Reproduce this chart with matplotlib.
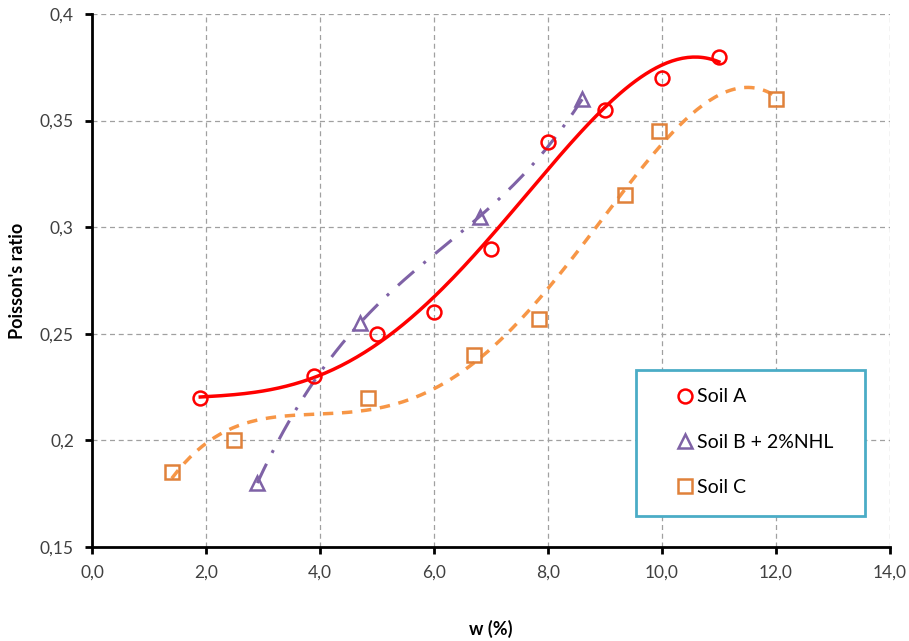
import numpy as np
import matplotlib
matplotlib.use("Agg")
import matplotlib.pyplot as plt
from matplotlib.ticker import FuncFormatter
from matplotlib.lines import Line2D
from matplotlib.patches import Rectangle

plt.rcParams['font.family'] = ['Lato', 'DejaVu Sans']

# Data
soilA_w = [1.9, 3.9, 5.0, 6.0, 7.0, 8.0, 9.0, 10.0, 11.0]
soilA_nu = [0.220, 0.230, 0.250, 0.260, 0.290, 0.340, 0.355, 0.370, 0.380]
soilB_w = [2.9, 4.7, 6.8, 8.6]
soilB_nu = [0.180, 0.255, 0.305, 0.360]
soilC_w = [1.4, 2.5, 4.85, 6.7, 7.85, 9.35, 9.95, 12.0]
soilC_nu = [0.185, 0.200, 0.220, 0.240, 0.257, 0.315, 0.345, 0.360]
labels = ["Soil A", "Soil B + 2%NHL", "Soil C"]

fig = plt.figure(figsize=(9.09, 6.41), dpi=100)
ax = fig.add_axes([0.1012, 0.1466, 0.8778, 0.8316])

redc = '#FF0000'
purc = '#7F62A6'
orc_line = '#F79646'
orc_mk = '#E0813A'

# trendlines (polynomial fits of the data)
xa = np.linspace(min(soilA_w), max(soilA_w), 200)
pa = np.polyfit(soilA_w, soilA_nu, 4)
ax.plot(xa, np.polyval(pa, xa), color=redc, lw=2.5, zorder=3)

xb = np.linspace(min(soilB_w), max(soilB_w), 200)
pb = np.polyfit(soilB_w, soilB_nu, 3)
ax.plot(xb, np.polyval(pb, xb), color=purc, lw=2.2, zorder=3,
        dashes=(7, 4, 1, 4))

xc = np.linspace(min(soilC_w), max(soilC_w), 200)
pc = np.polyfit(soilC_w, soilC_nu, 4)
ax.plot(xc, np.polyval(pc, xc), color=orc_line, lw=2.5, zorder=3,
        dashes=(3, 2.5))

ax.plot(soilA_w, soilA_nu, 'o', ms=10, mfc='none', mec=redc, mew=1.8, zorder=4)
ax.plot(soilB_w, soilB_nu, '^', ms=10, mfc='none', mec=purc, mew=1.8, zorder=4)
ax.plot(soilC_w, soilC_nu, 's', ms=10, mfc='none', mec=orc_mk, mew=1.8, zorder=4)

ax.set_xlim(0, 14)
ax.set_ylim(0.15, 0.4)
ax.set_xticks(np.arange(0, 14.1, 2))
ax.set_yticks([0.15, 0.2, 0.25, 0.3, 0.35, 0.4])
ax.xaxis.set_major_formatter(FuncFormatter(lambda v, p: f"{v:.1f}".replace('.', ',')))
ax.yaxis.set_major_formatter(FuncFormatter(lambda v, p: f"{v:.2f}".rstrip('0').replace('.', ',')))
ax.grid(True, color='#A0A0A0', linestyle=(0, (4, 3)), lw=0.9)
ax.set_axisbelow(True)
for s in ['top', 'right']:
    ax.spines[s].set_visible(False)
for s in ['left', 'bottom']:
    ax.spines[s].set_linewidth(2)
ax.tick_params(axis='both', length=5, width=2, labelsize=12.5, colors='black',
               labelcolor='#404040', pad=8)

ax.set_xlabel("w (%)", fontsize=13, fontweight='bold', labelpad=28)
ax.set_ylabel("Poisson's ratio", fontsize=13, fontweight='bold', labelpad=10)

# legend box
bx0 = (636 - 92) / 798
by0 = (547 - 516) / 533
bw = (865 - 636) / 798
bh = (516 - 370) / 533
ax.add_patch(Rectangle((bx0, by0), bw, bh, transform=ax.transAxes,
                       facecolor='white', edgecolor='#4BACC6', lw=2, zorder=5))

handles = [
    Line2D([], [], ls='none', marker='o', ms=10, mfc='none', mec=redc, mew=1.8),
    Line2D([], [], ls='none', marker='^', ms=10, mfc='none', mec=purc, mew=1.8),
    Line2D([], [], ls='none', marker='s', ms=10, mfc='none', mec=orc_mk, mew=1.8),
]
leg = ax.legend(handles, labels, loc='center left',
                bbox_to_anchor=((672 - 92) / 798, (547 - 442) / 533),
                fontsize=14, frameon=False, borderpad=0,
                labelspacing=1.45, handletextpad=0.0, handlelength=1.3,
                borderaxespad=0)
leg.set_zorder(6)

fig.savefig("out.png", dpi=100)
